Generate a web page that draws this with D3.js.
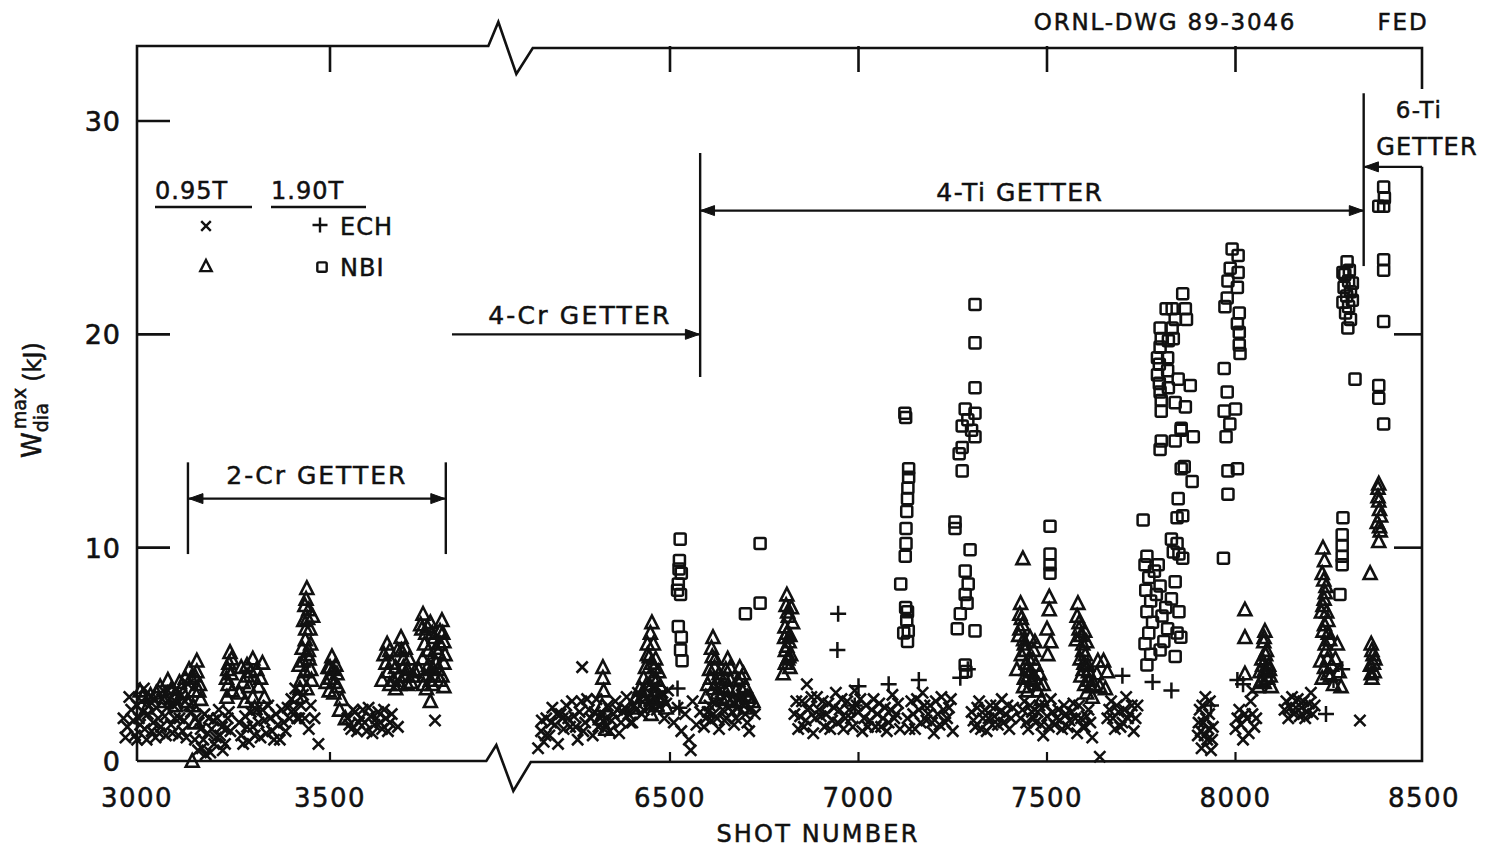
<!DOCTYPE html>
<html><head><meta charset="utf-8">
<script src="https://cdn.jsdelivr.net/npm/d3@7/dist/d3.min.js"></script>
<style>
html,body{margin:0;padding:0;background:#fff;}
svg{display:block;}
text{font-family:"DejaVu Sans",sans-serif;fill:#111;}
</style></head>
<body>
<svg id="chart" width="1485" height="849"></svg>
<script>
// ---------------- DATA ----------------
const yTicks = [0, 10, 20, 30];
const xTicksLeft = [3000, 3500];
const xTicksRight = [6500, 7000, 7500, 8000, 8500];
const xTickLabels = ["3000", "3500", "6500", "7000", "7500", "8000", "8500"];

// 0.95 T ECH  (x)
const ech095 = [
[2975,1.6],[2985,2.4],[2995,1.2],[3005,2.0],[3012,2.8],[3020,1.5],[3028,2.2],[3035,3.0],[3042,1.8],[3050,2.5],[3058,1.3],[3065,2.9],[3072,2.1],[3080,3.3],[3088,1.7],[3095,2.6],[3102,3.4],[3110,2.0],[3118,1.4],[3125,2.8],[3132,3.6],[3140,2.3],
[2965,2.0],[2970,1.1],[2980,3.0],[2990,1.9],[3000,2.6],[3000,1.0],[3008,1.7],[3015,2.3],[3018,3.4],[3025,1.0],[3032,2.6],[3038,1.4],[3045,2.9],[3048,1.1],[3055,2.0],[3062,1.6],[3068,3.3],[3075,1.2],[3078,2.5],[3085,2.9],[3092,1.3],[3098,2.0],[3105,2.7],[3108,1.2],[3115,3.1],[3122,1.9],[3128,1.1],[3135,2.6],
[3150,1.0],[3160,1.8],[3168,0.6],[3175,2.2],[3183,1.3],[3190,0.4],[3198,1.9],[3205,1.1],[3212,2.4],[3220,1.6],[3228,0.8],[3235,2.0],[3242,1.4],
[3152,2.0],[3158,0.5],[3165,1.5],[3172,1.0],[3178,0.3],[3186,2.0],[3193,1.5],[3200,0.8],[3208,2.0],[3215,1.2],[3222,0.5],[3230,1.5],[3238,2.3],
[3270,1.2],[3280,2.1],[3290,0.9],[3300,1.6],[3310,2.4],[3320,1.1],[3330,1.9],[3340,2.6],[3350,1.4],[3360,2.2],[3370,1.0],[3380,1.8],[3390,2.5],
[3265,1.8],[3275,0.8],[3285,1.6],[3295,2.3],[3305,1.2],[3315,1.8],[3325,2.4],[3335,1.3],[3345,2.0],[3355,1.0],[3365,1.7],[3375,2.4],[3385,1.4],[3395,2.0],
[3400,2.9],[3410,3.4],[3420,2.0],[3430,3.1],[3445,1.5],[3470,0.8],
[3405,2.4],[3415,2.0],[3425,2.6],[3435,2.0],[3450,2.6],[3460,2.0],
[3545,2.0],[3555,1.5],[3565,2.3],[3575,1.8],[3585,2.4],[3595,1.4],[3605,2.1],[3615,1.7],[3625,2.3],[3635,1.5],[3645,2.0],[3655,1.8],[3676,1.6],[3772,1.9],
[3550,1.7],[3560,2.4],[3570,1.4],[3580,2.0],[3590,1.8],[3600,2.5],[3610,1.3],[3620,2.0],[3630,1.8],[3640,2.4],[3650,1.4],[3660,2.2],
[6150,0.6],[6158,1.4],[6165,0.9],[6172,2.0],[6180,1.2],[6188,2.5],[6195,1.7],[6203,0.8],[6210,2.2],[6218,1.5],[6267,4.4],
[6160,1.9],[6170,1.2],[6185,1.8],[6200,2.2],[6215,2.0],[6230,2.0],[6240,2.8],[6250,1.6],[6260,2.3],[6270,1.4],[6280,2.9],[6290,2.0],[6300,2.3],[6310,1.6],[6320,2.2],[6330,2.0],[6340,1.4],[6350,2.2],[6360,2.4],[6370,1.8],[6380,2.5],[6390,2.2],[6400,1.8],[6410,2.4],[6420,2.9],[6430,2.4],[6440,3.0],[6450,2.6],[6460,3.0],[6470,2.6],[6480,3.2],[6490,2.7],
[6225,2.6],[6235,1.6],[6245,2.1],[6255,1.0],[6265,2.8],[6275,1.8],[6285,2.4],[6295,1.2],[6305,2.9],[6315,2.0],[6325,1.5],[6335,2.6],[6345,1.9],[6355,2.8],[6365,1.3],[6375,2.3],[6385,3.0],[6395,1.8],[6405,2.6],[6415,3.2],[6425,2.2],[6435,3.4],
[6445,2.8],[6455,3.5],[6465,2.4],[6475,3.0],[6485,2.0],[6495,3.3],
[6510,1.8],[6520,2.5],[6530,1.4],[6540,2.2],[6550,1.0],[6560,2.8],[6570,1.7],[6580,2.3],[6555,0.5],
[6590,1.6],[6600,2.3],[6610,1.9],[6620,2.7],[6630,1.5],[6640,2.4],[6650,2.0],[6660,2.9],[6670,1.7],[6680,2.5],[6690,3.1],[6700,2.2],[6710,1.4],
[6595,2.0],[6605,2.6],[6615,2.2],[6625,2.0],[6635,2.8],[6645,1.9],[6655,2.5],[6665,2.3],[6675,2.0],[6685,2.9],[6695,2.6],[6705,1.8],[6715,2.5],[6725,2.2],
[6863,3.6],
[6830,2.2],[6840,1.5],[6850,2.8],[6860,1.9],[6870,2.5],[6880,1.3],[6890,3.0],[6900,2.1],[6910,1.6],[6920,2.7],[6930,1.9],[6940,3.2],[6950,2.4],[6960,1.5],[6970,2.8],[6980,2.0],[6990,3.3],[7000,2.3],[7010,1.4],[7020,2.6],[7030,1.9],[7040,2.9],[7050,2.2],[7060,1.6],
[6835,2.8],[6845,2.1],[6855,1.6],[6865,2.4],[6875,3.0],[6885,2.0],[6895,2.4],[6905,2.8],[6915,2.2],[6925,1.5],[6935,2.5],[6945,1.8],[6955,2.9],[6965,2.0],[6975,2.4],[6985,1.6],[6995,2.6],[7005,2.9],[7015,2.0],[7025,1.6],[7035,2.4],[7045,1.6],[7055,2.7],[7065,2.0],[7075,1.4],[7085,2.4],[7095,2.0],[7105,2.7],
[7070,2.5],[7080,1.8],[7090,3.1],[7100,2.2],[7110,1.5],
[7130,2.0],[7140,2.8],[7150,1.5],[7160,2.4],[7170,3.2],[7180,1.9],[7190,2.6],[7200,1.3],[7210,2.2],[7220,3.0],[7230,1.8],[7240,2.5],[7250,1.4],
[7135,1.5],[7145,2.2],[7155,2.9],[7165,1.8],[7175,2.6],[7185,2.2],[7195,1.8],[7205,2.8],[7215,1.7],[7225,2.4],[7235,2.0],[7245,2.9],
[7300,2.3],[7310,1.6],[7320,2.8],[7330,2.0],[7340,1.4],[7350,2.6],[7360,2.1],[7370,1.7],[7380,2.9],[7390,2.2],[7400,1.5],[7410,2.5],
[7305,1.9],[7315,2.5],[7325,1.5],[7335,2.4],[7345,2.0],[7355,1.7],[7365,2.6],[7375,2.3],[7385,1.8],[7395,2.6],[7405,2.0],
[7430,2.0],[7440,2.8],[7450,1.5],[7460,2.3],[7470,1.8],[7480,2.6],[7490,1.2],[7500,2.1],[7510,2.9],[7520,1.7],[7530,2.4],[7540,1.5],[7550,2.2],[7560,1.9],[7570,2.7],[7580,1.3],[7590,2.0],[7600,1.6],[7610,2.4],[7620,1.1],[7640,0.2],
[7435,2.4],[7445,1.8],[7455,2.6],[7465,2.0],[7475,2.3],[7485,1.7],[7495,2.6],[7505,1.6],[7515,2.3],[7525,2.0],[7535,1.9],[7545,2.6],[7555,1.6],[7565,2.3],[7575,2.0],[7585,2.6],[7595,1.6],[7605,2.1],[7615,1.8],
[7660,2.0],[7670,2.8],[7680,1.5],[7690,2.3],[7700,1.8],[7710,3.0],[7720,2.2],[7730,1.4],[7740,2.6],
[7665,2.4],[7675,2.0],[7685,2.6],[7695,1.6],[7705,2.4],[7715,2.0],[7725,2.6],[7735,2.0],
[7900,1.2],[7905,2.4],[7910,0.6],[7915,1.8],[7920,3.0],[7925,1.0],[7930,2.2],[7935,0.5],[7940,1.6],
[7902,1.8],[7908,1.4],[7912,2.6],[7918,1.2],[7922,2.0],[7928,1.5],[7932,2.8],[7938,1.0],
[8000,1.5],[8010,2.4],[8020,1.0],[8030,2.0],[8040,2.8],[8050,1.6],[8045,3.3],
[8005,2.0],[8015,1.7],[8025,2.2],[8035,1.3],[8045,2.2],[8055,2.0],
[8130,2.4],[8140,2.0],[8150,3.0],[8160,2.5],[8170,2.1],[8180,2.8],[8190,2.3],[8200,3.2],[8210,2.6],
[8135,2.8],[8145,2.5],[8155,2.2],[8165,2.9],[8175,2.5],[8185,2.0],[8195,2.7],[8205,2.2],
[8330,1.9]
];

// 1.90 T ECH  (+)
const ech190 = [
[6946,6.9],[6944,5.2],[6520,3.4],[6525,2.5],[7000,3.5],[6990,2.6],[7080,3.6],[7160,3.8],[7270,3.9],[7290,4.3],
[7700,4.0],[7780,3.7],[7830,3.3],[7935,2.6],[8005,3.8],[8020,3.6],[8240,2.2],[8260,3.8],[8283,4.3]
];

// 0.95 T NBI  (triangle)
const nbi095 = [
[3008,3.3],[3060,3.5],[3080,3.8],[3110,3.7],[3140,3.9],[3155,4.7],[3150,4.0],[3160,3.3],[3145,2.6],[3165,2.9],[3150,1.8],[3143,0.0],[3035,3.1],[3095,3.0],
[3015,3.0],[3025,2.5],[3050,3.2],[3070,2.8],[3090,3.4],[3100,2.6],[3120,3.2],[3130,2.8],[3125,3.9],[3135,4.3],[3155,4.2],[3162,3.6],[3148,3.3],
[3241,5.1],[3238,4.6],[3244,4.1],[3236,3.6],[3233,3.0],[3235,4.3],[3245,4.8],[3232,3.9],[3247,3.3],
[3270,4.4],[3285,4.0],[3300,4.8],[3310,4.3],[3320,3.9],[3290,3.5],[3265,3.2],[3280,2.8],[3305,2.5],[3330,3.0],
[3275,3.7],[3295,4.2],[3315,3.5],[3325,4.6],[3300,3.0],[3285,4.5],
[3440,8.1],[3438,7.6],[3445,7.1],[3432,6.6],[3448,6.2],[3436,5.7],[3444,5.2],[3430,4.7],[3450,4.3],[3425,3.8],[3440,3.4],[3415,3.0],[3455,6.8],[3420,4.5],
[3435,7.3],[3442,6.7],[3450,5.5],[3428,5.3],[3446,4.8],[3435,4.2],[3452,3.8],[3422,3.4],[3437,6.2],[3442,5.0],
[3505,4.9],[3495,4.4],[3515,4.5],[3500,3.9],[3520,3.5],[3490,3.7],[3510,3.2],[3530,2.9],[3525,2.4],[3540,2.0],
[3500,4.4],[3508,4.3],[3512,3.7],[3498,3.3],[3518,4.1],
[3648,5.5],[3684,5.8],[3640,5.0],[3660,4.6],[3675,5.2],[3690,4.8],[3700,4.3],[3650,4.2],[3665,3.8],[3680,3.6],[3695,4.0],[3710,3.7],[3720,4.2],[3635,3.8],
[3645,4.6],[3655,5.2],[3670,4.4],[3685,5.2],[3695,5.3],[3705,4.8],[3715,4.0],[3655,3.6],[3670,3.4],[3700,3.6],[3690,4.4],[3678,4.0],
[3741,6.9],[3735,6.4],[3748,6.0],[3760,6.5],[3770,5.8],[3790,6.6],[3785,6.1],[3795,5.6],[3780,5.1],[3775,4.6],[3790,4.0],[3795,3.5],[3755,5.2],[3765,4.4],[3745,4.0],[3730,4.3],[3760,3.8],[3750,3.4],[3760,2.8],
[3738,6.2],[3745,5.5],[3752,6.3],[3765,6.0],[3775,5.3],[3785,5.5],[3792,6.0],[3798,5.0],[3780,4.3],[3770,4.0],[3795,4.6],[3740,4.8],[3755,4.5],[3765,3.6],[3785,3.8],[3742,3.6],
[6322,4.4],[6322,3.9],[6324,3.3],[6320,2.6],[6315,2.0],[6330,1.5],
[6452,6.5],[6448,6.0],[6456,5.5],[6440,5.0],[6462,4.8],[6435,4.4],[6470,4.2],[6430,3.9],[6445,3.6],[6460,3.3],[6475,3.5],[6420,3.4],[6480,2.9],[6410,3.0],[6465,2.6],[6450,2.2],[6400,2.5],[6490,2.5],
[6440,5.5],[6445,4.9],[6458,4.4],[6465,3.8],[6455,3.9],[6438,3.6],[6425,3.0],[6470,3.0],[6450,4.6],[6452,2.9],
[6614,5.8],[6610,5.3],[6620,4.8],[6605,4.3],[6630,4.1],[6653,4.8],[6648,4.3],[6660,3.8],[6685,4.4],[6690,3.9],[6700,3.5],[6675,3.3],[6640,3.5],[6625,3.2],[6600,3.6],[6595,3.0],[6665,2.8],[6710,3.0],[6720,2.8],[6700,2.5],
[6612,4.9],[6618,4.4],[6608,3.9],[6625,3.7],[6645,3.9],[6655,3.4],[6660,4.4],[6680,3.8],[6692,3.3],[6705,3.0],[6615,3.4],[6635,3.0],[6650,2.9],[6682,2.8],[6695,4.1],
[6810,7.8],[6808,7.3],[6814,6.8],[6805,6.3],[6818,5.9],[6810,5.4],[6820,5.0],[6806,4.6],[6815,4.9],[6800,4.1],[6825,6.5],[6822,7.2],
[6812,7.0],[6810,6.0],[6816,5.6],[6806,5.2],[6818,4.4],[6812,4.8],[6804,5.8],
[7436,9.5],
[7430,7.4],[7428,6.9],[7435,6.4],[7425,5.9],[7440,5.5],[7432,5.0],[7445,4.6],[7420,4.3],[7450,4.0],[7438,3.5],[7460,3.8],[7455,5.8],[7465,5.2],[7470,4.5],[7475,3.3],[7480,4.1],[7490,3.6],[7485,2.9],
[7432,6.7],[7428,6.2],[7438,5.7],[7442,5.2],[7446,4.3],[7452,4.8],[7458,4.2],[7462,4.8],[7468,3.9],[7478,3.6],[7440,3.9],[7448,3.3],[7468,5.6],
[7506,7.7],[7506,7.1],[7500,6.2],[7510,5.6],[7502,5.0],
[7582,7.4],[7580,6.8],[7585,6.2],[7578,5.7],[7595,5.2],[7600,6.1],[7605,5.6],[7598,4.6],[7610,4.2],[7590,4.0],[7615,3.5],[7620,3.0],[7605,3.2],[7635,4.7],[7632,4.1],[7640,3.5],
[7585,6.5],[7590,5.9],[7595,5.5],[7588,4.8],[7602,5.0],[7608,4.5],[7612,3.8],[7600,3.6],[7596,4.3],[7625,3.6],
[7650,4.7],[7660,4.2],[7655,3.4],
[8025,7.1],[8025,5.8],[8025,4.1],
[8078,6.1],[8075,5.6],[8082,5.2],[8070,4.8],[8088,4.5],[8065,4.2],[8092,4.0],[8078,4.3],[8085,3.9],[8070,3.8],[8095,3.5],[8060,3.5],
[8076,5.8],[8080,5.0],[8072,4.5],[8084,4.2],[8090,4.3],[8076,3.7],
[8232,10.0],[8236,9.4],[8230,8.8],[8240,8.2],[8235,7.6],[8228,7.0],[8245,6.6],[8232,6.1],[8250,5.7],[8240,5.2],[8226,4.7],[8255,4.5],[8245,4.1],[8230,3.9],[8260,3.6],[8265,4.8],[8270,5.5],[8275,4.2],[8280,3.5],
[8234,8.5],[8238,7.9],[8232,7.3],[8242,7.0],[8236,6.4],[8246,6.0],[8238,5.5],[8244,4.8],[8236,4.4],[8252,4.0],
[8380,13.0],[8378,12.4],[8382,11.8],[8376,11.2],[8384,10.8],[8380,10.3],[8378,12.8],[8385,11.5],[8357,8.8],[8380,12.2],[8382,11.0],
[8360,5.5],[8365,5.0],[8358,4.5],[8368,4.2],[8362,3.9],[8370,4.8],[8362,5.2],[8366,4.6],[8360,4.1]
];

// 1.90 T NBI  (square)
const nbi190 = [
[6527,10.4],[6525,9.4],[6530,8.8],[6522,8.3],[6528,7.8],[6520,8.0],[6522,6.3],[6530,5.8],[6528,5.2],[6532,4.7],[6524,9.0],
[6739,10.2],[6700,6.9],[6739,7.4],
[7123,16.3],[7125,16.1],[7133,13.7],[7133,13.3],[7131,12.8],[7130,12.3],[7128,11.7],[7126,10.9],[7126,10.2],[7124,9.6],[7112,8.3],[7130,7.0],[7128,6.6],[7132,6.1],[7130,5.6],[7120,6.0],[7125,7.2],
[7309,21.4],[7309,19.6],[7309,17.5],[7283,16.5],[7309,16.3],[7275,15.7],[7309,15.2],[7275,14.7],[7267,14.4],[7275,13.6],[7256,11.2],[7256,10.9],[7296,9.9],[7283,8.9],[7291,8.3],[7283,7.8],[7288,7.4],[7270,6.9],[7262,6.2],[7309,6.1],[7283,4.5],[7285,4.2],[7290,16.0],[7300,15.5],
[7508,11.0],[7508,9.7],[7508,9.2],[7508,8.8],
[7755,11.3],[7765,9.6],[7760,9.2],[7770,8.6],[7762,8.0],[7775,7.5],[7765,7.0],[7780,6.5],[7770,6.0],[7760,5.5],[7775,5.0],[7765,4.5],[7785,8.9],[7790,7.8],[7795,9.2],[7800,8.2],[7805,6.8],[7810,5.6],[7815,7.2],[7820,6.2],[7800,5.2],[7830,7.6],[7835,9.8],[7840,8.4],[7845,6.0],[7850,7.0],[7855,5.8],[7860,9.5],[7840,4.9],
[7816,21.2],[7800,20.3],[7803,19.8],[7800,19.4],[7793,18.9],[7798,18.6],[7793,18.1],[7798,17.7],[7800,17.3],[7803,16.9],[7803,16.4],[7803,15.0],[7820,18.9],[7822,19.7],[7820,18.3],[7822,17.5],[7800,14.6],
[7832,21.2],[7840,20.7],[7832,20.3],[7835,19.8],[7860,21.9],[7867,21.2],[7870,20.7],[7848,17.9],[7840,16.8],[7867,16.6],[7856,15.6],[7840,15.0],[7864,13.8],[7856,13.7],[7856,15.5],[7880,17.6],[7888,15.2],[7885,13.1],
[7845,11.4],[7848,12.3],[7860,11.5],[7830,10.4],[7845,10.2],[7850,9.7],
[7991,24.0],[8007,23.7],[7986,23.1],[8007,22.9],[7980,22.5],[8005,22.2],[7978,21.7],[7972,21.3],[8010,21.0],[8005,20.5],[8010,20.1],[8010,19.5],[8012,19.1],[7970,18.4],[7978,17.3],[7970,16.4],[8000,16.5],[8005,13.7],[7980,13.6],[7980,12.5],[7968,9.5],[7985,15.8],[7975,15.2],
[8296,23.4],[8290,22.8],[8300,22.5],[8288,22.2],[8305,22.0],[8295,21.8],[8285,21.5],[8300,21.3],[8310,21.6],[8292,21.0],[8305,20.7],[8298,20.3],[8310,22.4],[8285,22.9],[8302,23.0],
[8317,17.9],[8393,23.5],[8393,23.0],[8393,20.6],[8380,17.6],[8380,17.0],[8393,15.8],
[8393,26.9],[8395,26.4],[8393,26.0],[8380,26.0],
[8285,11.4],[8283,10.6],[8283,10.1],[8283,9.6],[8283,9.2],[8277,7.8]
];

// annotation text
const headerTexts = ["ORNL-DWG 89-3046", "FED"];
const getterLabels = ["2-Cr GETTER", "4-Cr GETTER", "4-Ti GETTER", "6-Ti", "GETTER"];

// ---------------- SCALES ----------------
const svg = d3.select("#chart");
const frame = {left: 137, right: 1422, top: 46, bottom: 761};
const xL = d3.scaleLinear().domain([3000, 3500]).range([137, 330]);
const xR = d3.scaleLinear().domain([6500, 8500]).range([670, 1424]);
const X = s => (s < 5000 ? xL(s) : xR(s));
const y = d3.scaleLinear().domain([0, 30]).range([761, 121]);

const ink = "#111";
const g = svg.append("g");

// ---------------- FRAME ----------------
const line = d3.line();
const brkL = xL(3905), brkR = xR(6136);
g.append("path").attr("d", line([
  [frame.left, frame.bottom], [frame.left, frame.top], [brkL + 2, frame.top],
  [brkL + 12, frame.top - 24], [brkL + 30, frame.top + 28], [brkR, frame.top + 2],
  [frame.right, frame.top + 2], [frame.right, y(31.5)]
])).attr("fill", "none").attr("stroke", ink).attr("stroke-width", 2.6).attr("stroke-linejoin", "miter");
g.append("path").attr("d", line([
  [frame.left, frame.bottom], [brkL, frame.bottom], [brkL + 10, frame.bottom - 16],
  [brkL + 27, frame.bottom + 30], [brkR - 2, frame.bottom + 1], [frame.right, frame.bottom], [frame.right, y(27.85)]
])).attr("fill", "none").attr("stroke", ink).attr("stroke-width", 2.6);

// ticks
[30, 20, 10].forEach(v => {
  g.append("line").attr("x1", frame.left).attr("x2", frame.left + 33).attr("y1", y(v)).attr("y2", y(v)).attr("stroke", ink).attr("stroke-width", 2.6);
});
[20, 10].forEach(v => {
  g.append("line").attr("x1", frame.right - 28).attr("x2", frame.right).attr("y1", y(v)).attr("y2", y(v)).attr("stroke", ink).attr("stroke-width", 2.6);
});
const innerTicks = [3500, 6500, 7000, 7500, 8000];
innerTicks.forEach(s => {
  g.append("line").attr("x1", X(s)).attr("x2", X(s)).attr("y1", frame.top).attr("y2", frame.top + 26).attr("stroke", ink).attr("stroke-width", 2.6);
  g.append("line").attr("x1", X(s)).attr("x2", X(s)).attr("y1", frame.bottom).attr("y2", frame.bottom - 9).attr("stroke", ink).attr("stroke-width", 2.2);
});

// tick labels
yTicks.forEach(v => {
  g.append("text").attr("x", 121).attr("y", y(v) + 10).attr("text-anchor", "end")
    .attr("font-size", 27).attr("letter-spacing", 1).attr("stroke", ink).attr("stroke-width", 0.6).text(v);
});
const xTickVals = xTicksLeft.concat(xTicksRight);
xTickVals.forEach((s, i) => {
  g.append("text").attr("x", X(s)).attr("y", 807).attr("text-anchor", "middle")
    .attr("font-size", 26).attr("letter-spacing", 1.5).attr("stroke", ink).attr("stroke-width", 0.5).text(xTickLabels[i]);
});

// axis titles
g.append("text").attr("x", 818).attr("y", 842).attr("text-anchor", "middle")
  .attr("font-size", 24).attr("letter-spacing", 2.2).attr("stroke", ink).attr("stroke-width", 0.5).text("SHOT NUMBER");
const yt = g.append("text").attr("transform", "translate(41,400) rotate(-90)").attr("text-anchor", "middle")
  .attr("font-size", 26).attr("stroke", ink).attr("stroke-width", 0.5);
yt.append("tspan").text("W");
yt.append("tspan").attr("font-size", 19).attr("dy", 7).text("dia");
yt.append("tspan").attr("font-size", 19).attr("dx", -26).attr("dy", -22).text("max");
yt.append("tspan").attr("font-size", 24).attr("dx", 6).attr("dy", 15).text("(kJ)");

// header
g.append("text").attr("x", 1165).attr("y", 30).attr("text-anchor", "middle").attr("font-size", 23)
  .attr("letter-spacing", 1.8).attr("stroke", ink).attr("stroke-width", 0.5).text(headerTexts[0]);
g.append("text").attr("x", 1403).attr("y", 30).attr("text-anchor", "middle").attr("font-size", 23)
  .attr("letter-spacing", 1.8).attr("stroke", ink).attr("stroke-width", 0.5).text(headerTexts[1]);

// ---------------- MARKERS ----------------
function drawMarker(sel, type, size) {
  const r = size;
  if (type === "x") {
    sel.append("path").attr("d", `M${-r*0.8},${-r*0.8}L${r*0.8},${r*0.8}M${-r*0.8},${r*0.8}L${r*0.8},${-r*0.8}`);
  } else if (type === "+") {
    sel.append("path").attr("d", `M${-r},0L${r},0M0,${-r}L0,${r}`);
  } else if (type === "tri") {
    sel.append("path").attr("d", `M0,${-r}L${r*0.95},${r*0.85}L${-r*0.95},${r*0.85}Z`);
  } else {
    sel.append("rect").attr("x", -r*0.85).attr("y", -r*0.85).attr("width", r*1.7).attr("height", r*1.7).attr("rx", 1.5);
  }
}
const series = [
  {data: ech095, type: "x", size: 7, sw: 2.6},
  {data: nbi095, type: "tri", size: 6.8, sw: 2.6},
  {data: nbi190, type: "sq", size: 6.5, sw: 2.5},
  {data: ech190, type: "+", size: 8, sw: 2.5}
];
series.forEach(sr => {
  const gg = g.append("g").attr("fill", "none").attr("stroke", ink).attr("stroke-width", sr.sw);
  sr.data.forEach(d => {
    const m = gg.append("g").attr("transform", `translate(${X(d[0])},${y(d[1])})`);
    drawMarker(m, sr.type, sr.size);
  });
});

// ---------------- LEGEND ----------------
const lg = g.append("g");
lg.append("text").attr("x", 155).attr("y", 199).attr("font-size", 24).attr("letter-spacing", 1).attr("stroke", ink).attr("stroke-width", 0.5).text("0.95T");
lg.append("text").attr("x", 271).attr("y", 199).attr("font-size", 24).attr("letter-spacing", 1).attr("stroke", ink).attr("stroke-width", 0.5).text("1.90T");
lg.append("line").attr("x1", 155).attr("x2", 252).attr("y1", 207).attr("y2", 207).attr("stroke", ink).attr("stroke-width", 2.4);
lg.append("line").attr("x1", 271).attr("x2", 366).attr("y1", 207).attr("y2", 207).attr("stroke", ink).attr("stroke-width", 2.4);
const lm = lg.append("g").attr("fill", "none").attr("stroke", ink).attr("stroke-width", 2.4);
drawMarker(lm.append("g").attr("transform", "translate(206,226)"), "x", 6);
drawMarker(lm.append("g").attr("transform", "translate(320,225)"), "+", 7.5);
drawMarker(lm.append("g").attr("transform", "translate(206,266)"), "tri", 6);
drawMarker(lm.append("g").attr("transform", "translate(322,267)"), "sq", 5.5);
lg.append("text").attr("x", 340).attr("y", 235).attr("font-size", 24).attr("letter-spacing", 1).attr("stroke", ink).attr("stroke-width", 0.5).text("ECH");
lg.append("text").attr("x", 340).attr("y", 276).attr("font-size", 24).attr("letter-spacing", 1).attr("stroke", ink).attr("stroke-width", 0.5).text("NBI");

// ---------------- GETTER ANNOTATIONS ----------------
const ag = g.append("g").attr("stroke", ink).attr("stroke-width", 2.4).attr("fill", "none");
function arrowHead(x, yy, dir) {
  g.append("path").attr("d", `M${x},${yy}L${x - dir*14},${yy - 5}L${x - dir*14},${yy + 5}Z`).attr("fill", ink).attr("stroke", ink).attr("stroke-width", 1);
}
// 2-Cr
[3132, 3800].forEach(s => ag.append("line").attr("x1", X(s)).attr("x2", X(s)).attr("y1", y(14.0)).attr("y2", y(9.7)));
ag.append("line").attr("x1", X(3132)).attr("x2", X(3800)).attr("y1", y(12.3)).attr("y2", y(12.3));
arrowHead(X(3132) + 1, y(12.3), -1); arrowHead(X(3800) - 1, y(12.3), 1);
g.append("text").attr("x", (X(3132) + X(3800)) / 2).attr("y", y(13.0)).attr("text-anchor", "middle").attr("font-size", 25)
  .attr("letter-spacing", 2).attr("stroke", ink).attr("stroke-width", 0.5).text(getterLabels[0]);
// 4-Cr
ag.append("line").attr("x1", X(3816)).attr("x2", X(6578)).attr("y1", y(20.0)).attr("y2", y(20.0));
arrowHead(X(6578), y(20.0), 1);
ag.append("line").attr("x1", X(6580)).attr("x2", X(6580)).attr("y1", y(28.5)).attr("y2", y(18.0));
g.append("text").attr("x", X(6261)).attr("y", y(20.5)).attr("text-anchor", "middle").attr("font-size", 25)
  .attr("letter-spacing", 2.2).attr("stroke", ink).attr("stroke-width", 0.5).text(getterLabels[1]);
// 4-Ti
ag.append("line").attr("x1", X(6580)).attr("x2", X(8340)).attr("y1", y(25.8)).attr("y2", y(25.8));
arrowHead(X(6581), y(25.8), -1); arrowHead(X(8339), y(25.8), 1);
ag.append("line").attr("x1", X(8340)).attr("x2", X(8340)).attr("y1", y(31.3)).attr("y2", y(23.2));
g.append("text").attr("x", X(7428)).attr("y", y(26.25)).attr("text-anchor", "middle").attr("font-size", 25)
  .attr("letter-spacing", 1.5).attr("stroke", ink).attr("stroke-width", 0.5).text(getterLabels[2]);
// 6-Ti
ag.append("line").attr("x1", frame.right).attr("x2", X(8342)).attr("y1", y(27.85)).attr("y2", y(27.85));
arrowHead(X(8342), y(27.85), -1);
g.append("text").attr("x", 1419).attr("y", 118).attr("text-anchor", "middle").attr("font-size", 23)
  .attr("letter-spacing", 1.5).attr("stroke", ink).attr("stroke-width", 0.5).text(getterLabels[3]);
g.append("text").attr("x", 1427).attr("y", 155).attr("text-anchor", "middle").attr("font-size", 24)
  .attr("letter-spacing", 1.2).attr("stroke", ink).attr("stroke-width", 0.5).text(getterLabels[4]);
</script>
</body></html>
